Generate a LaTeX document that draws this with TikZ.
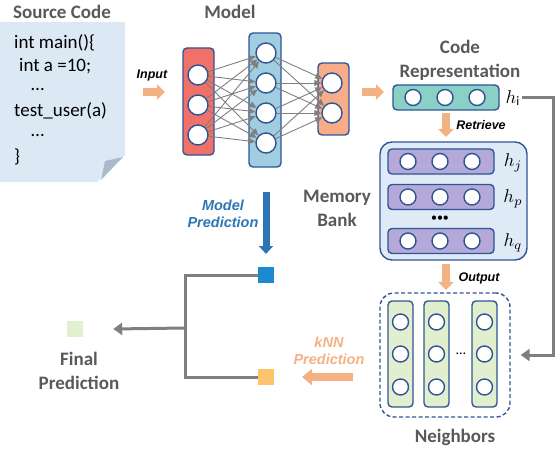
\documentclass[tikz,border=0pt]{standalone}
\usepackage{fontspec}
\setmainfont{Carlito}
\newfontfamily\arialf{Liberation Sans}
\usetikzlibrary{arrows.meta}
\definecolor{docblue}{HTML}{DCE9F5}
\definecolor{foldgray}{HTML}{ADB9CA}
\definecolor{redl}{HTML}{EF7167}
\definecolor{bluel}{HTML}{A0CDDF}
\definecolor{salmon}{HTML}{F8AD88}
\definecolor{bordblue}{HTML}{2F5597}
\definecolor{teal}{HTML}{8AD0C5}
\definecolor{purp}{HTML}{B4A9D8}
\definecolor{membank}{HTML}{DEEBF7}
\definecolor{greenl}{HTML}{E2EFCF}
\definecolor{arrorange}{HTML}{F4B183}
\definecolor{mblue}{HTML}{2E75B6}
\definecolor{sqblue}{HTML}{1C8ACF}
\definecolor{sqorange}{HTML}{FFC36B}
\definecolor{sqgreen}{HTML}{E2EFD0}
\definecolor{linegray}{HTML}{7F7F7F}
\definecolor{titlegray}{HTML}{595959}
\newcommand{\hl}[1]{\scalebox{1.85}{$h_{#1}$}}
\begin{document}
\begin{tikzpicture}[x=1pt,y=-1pt,
  title/.style={font=\fontsize{19}{24}\selectfont\bfseries, text=titlegray, inner sep=0, align=center},
  tag/.style={font=\arialf\fontsize{12.5}{14}\selectfont\bfseries\itshape, inner sep=0},
  bigtag/.style={font=\arialf\fontsize{14.5}{17}\selectfont\bfseries\itshape, inner sep=0, align=center},
  codet/.style={font=\fontsize{19}{22}\selectfont, inner sep=0, anchor=west},
  dotst/.style={font=\fontsize{19}{22}\selectfont, inner sep=0, anchor=base west, text height=3pt, text depth=0pt},
  layer/.style={draw=bordblue, line width=1.4pt, rounded corners=4pt, inner sep=0},
  neuron/.style={circle, draw=bordblue, fill=white, line width=1.4pt, minimum size=20pt, inner sep=0},
  sneuron/.style={neuron, minimum size=16pt},
  nnedge/.style={draw=linegray, line width=0.9pt, -{Triangle[length=7pt,width=6pt]}},
  fatarrow/.style={draw=arrorange, line width=8pt, -{Triangle[length=8pt,width=15pt]}},
  hlab/.style={inner sep=0},
  sq/.style={minimum size=16pt, inner sep=0},
  tree/.style={draw=linegray, line width=3pt},
  treearrow/.style={tree, -{Triangle[length=9pt,width=12pt]}}
]
\useasboundingbox (0,0) rectangle (555,452);

% ---------- Source code document ----------
\node[title] (srct) at (62,12) {Source Code};
\fill[docblue] (0,22) -- (125,22) -- (125,155) -- (97,182) -- (0,182) -- cycle;
\fill[foldgray] (101,180) -- (123,157) -- (105,161) -- cycle;
\node[codet] (c1) at (14,43) {int main()\{};
\node[codet] (c2) at (19,66) {int a =10;};
\node[dotst] (c3) at (31,91) {\dots};
\node[codet] (c4) at (14,111) {test\_user(a)};
\node[dotst] (c5) at (31,137) {\dots};
\node[codet] (c6) at (14,157) {\}};

% ---------- Input arrow ----------
\node[tag] (inputt) at (152,75) {Input};
\coordinate (ia) at (143,92);
\coordinate (ib) at (165,92);
\draw[fatarrow] (ia) -- (ib);

% ---------- Model ----------
\node[title] (modelt) at (230,12) {Model};
\node[layer, fill=redl, minimum width=31pt, minimum height=107pt] (L) at (198.5,101.5) {};
\node[layer, fill=bluel, minimum width=32pt, minimum height=134pt] (M) at (265,100) {};
\node[layer, fill=salmon, minimum width=31pt, minimum height=72pt] (R) at (333.5,99) {};
\node[neuron] (l1) at (198,75) {};
\node[neuron] (l2) at (198,105) {};
\node[neuron] (l3) at (198,135) {};
\node[neuron] (m1) at (266,53) {};
\node[neuron] (m2) at (266,83) {};
\node[neuron] (m3) at (266,113) {};
\node[neuron] (m4) at (266,143) {};
\node[neuron] (r1) at (332,83) {};
\node[neuron] (r2) at (332,113) {};
\foreach \i in {l1,l2,l3}{\foreach \j in {m1,m2,m3,m4}{\draw[nnedge] (\i) -- (\j);}}
\foreach \i in {m1,m2,m3,m4}{\foreach \j in {r1,r2}{\draw[nnedge] (\i) -- (\j);}}

% ---------- arrow to code representation ----------
\coordinate (ca) at (362,92);
\coordinate (cb) at (384,92);
\draw[fatarrow] (ca) -- (cb);

% ---------- Code representation ----------
\node[title] (crt) at (460,60) {Code\\Representation};
\node[layer, fill=teal, minimum width=106pt, minimum height=25pt] (CR) at (446,97.5) {};
\node[sneuron] (cr1) at (413,97.5) {};
\node[sneuron] (cr2) at (445,97.5) {};
\node[sneuron] (cr3) at (477,97.5) {};
\node[hlab] (hi) at (513,98) {\hl{\mathrm{i}}};

% ---------- Retrieve ----------
\coordinate (ra) at (446,113);
\coordinate (rb) at (446,137);
\draw[fatarrow] (ra) -- (rb);
\node[tag] (rett) at (481,125) {Retrieve};

% ---------- Memory bank ----------
\node[title] (mbt) at (337,208) {Memory\\Bank};
\node[draw=bordblue, line width=1.4pt, rounded corners=12pt, fill=membank, minimum width=147pt, minimum height=118pt, inner sep=0] (MB) at (453.5,201) {};
\node[layer, fill=purp, minimum width=106pt, minimum height=25pt] (P1) at (441,161.5) {};
\node[layer, fill=purp, minimum width=106pt, minimum height=25pt] (P2) at (441,197) {};
\node[layer, fill=purp, minimum width=106pt, minimum height=25pt] (P3) at (441,241) {};
\foreach \y/\n in {161.5/a,197/b,241/c}{
  \node[sneuron] (p\n1) at (408,\y) {};
  \node[sneuron] (p\n2) at (440,\y) {};
  \node[sneuron] (p\n3) at (472,\y) {};
}
\node[font=\fontsize{12}{12}\selectfont, inner sep=0] (mdots) at (440,219) {\textbullet\textbullet\textbullet};
\node[hlab] (hj) at (513,163) {\hl{j}};
\node[hlab] (hp) at (513,199) {\hl{p}};
\node[hlab] (hq) at (513,243) {\hl{q}};

% ---------- Output ----------
\coordinate (oa) at (446,264);
\coordinate (ob) at (446,290);
\draw[fatarrow] (oa) -- (ob);
\node[tag] (outt) at (479,278) {Output};

% ---------- Neighbors ----------
\node[draw=bordblue, line width=1.4pt, dash pattern=on 4pt off 2.5pt, rounded corners=14pt, minimum width=130pt, minimum height=124pt, inner sep=0] (NB) at (445,355) {};
\node[layer, fill=greenl, minimum width=25pt, minimum height=106pt] (C1) at (400.5,354) {};
\node[layer, fill=greenl, minimum width=25pt, minimum height=106pt] (C2) at (436.5,354) {};
\node[layer, fill=greenl, minimum width=25pt, minimum height=106pt] (C3) at (484.5,354) {};
\foreach \x/\n in {400.5/a,436.5/b,484.5/c}{
  \node[sneuron] (n\n1) at (\x,322) {};
  \node[sneuron] (n\n2) at (\x,354) {};
  \node[sneuron] (n\n3) at (\x,387) {};
}
\node[font=\fontsize{14}{14}\selectfont, inner sep=0] (ndots) at (461,354) {\dots};
\node[title] (nbt) at (455,437) {Neighbors};

% ---------- h_i to neighbors ----------
\coordinate (corner) at (553,98);
\draw[tree, -{Triangle[length=9pt,width=12pt]}] ([xshift=2pt]hi.east) -- (corner) |- ([xshift=10pt]NB.east);

% ---------- Model prediction ----------
\node[bigtag, text=mblue] (mpt) at (223,214) {Model\\Prediction};
\coordinate (ma) at (266,192);
\coordinate (mb) at (266,254);
\draw[draw=mblue, line width=7pt, -{Triangle[length=8pt,width=14pt]}] (ma) -- (mb);
\node[sq, fill=sqblue] (bsq) at (266,275) {};

% ---------- kNN prediction ----------
\node[bigtag, text=arrorange] (knt) at (329,351) {kNN\\Prediction};
\coordinate (ka) at (353,377);
\coordinate (kb) at (302,377);
\draw[draw=arrorange, line width=8pt, -{Triangle[length=10pt,width=16pt]}] (ka) -- (kb);
\node[sq, fill=sqorange] (osq) at (266,377) {};

% ---------- merge tree ----------
\coordinate (tt) at (185,275);
\coordinate (tb) at (185,377);
\coordinate (tm) at (185,328);
\draw[tree] (bsq.west) -- (tt) -- (tb) -- (osq.west);
\node[sq, fill=sqgreen] (gsq) at (75,329) {};
\draw[treearrow] (tm) -- ([xshift=30pt]gsq.east);
\node[title] (fpt) at (79,371) {Final\\Prediction};
\end{tikzpicture}
\end{document}
